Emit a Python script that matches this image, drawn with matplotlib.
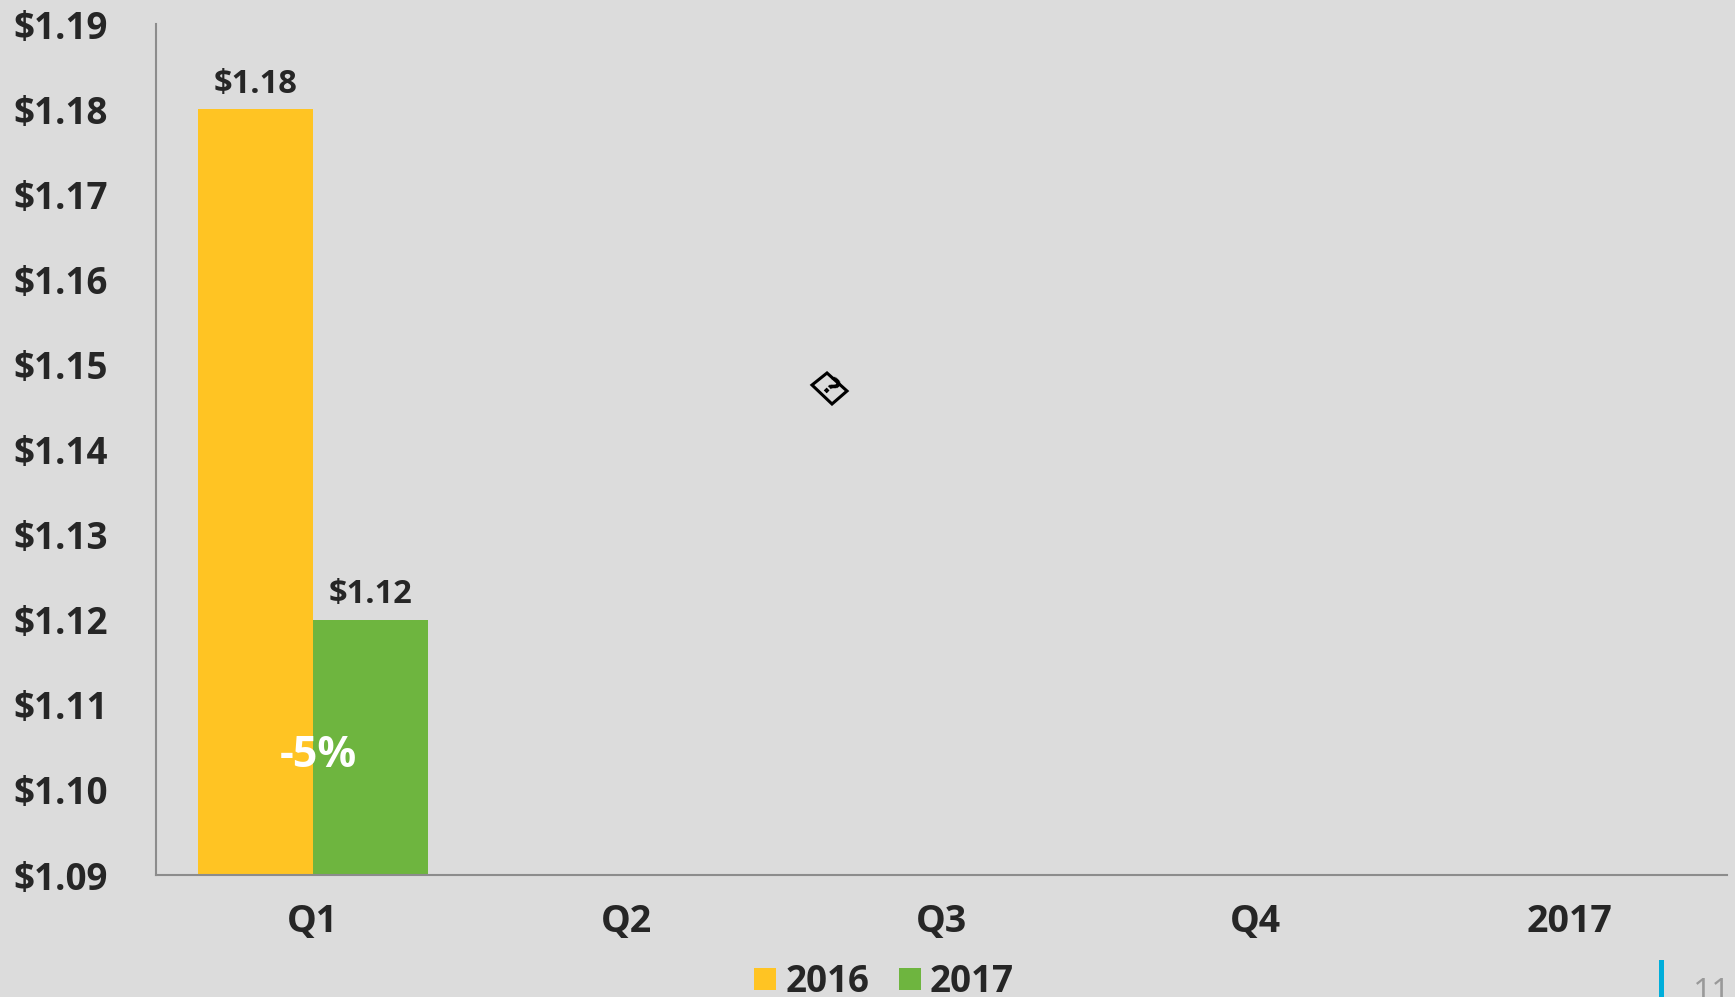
import numpy as np
import matplotlib.pyplot as plt
from matplotlib.patches import Polygon, Rectangle

W, H = 1735, 997
BG = '#DCDCDC'
DARK = '#262626'
AXIS = '#8C8C8C'

categories = ['Q1', 'Q2', 'Q3', 'Q4', '2017']
values_2016 = [1.18, np.nan, np.nan, np.nan, np.nan]
values_2017 = [1.12, np.nan, np.nan, np.nan, np.nan]
y_ticks = [1.09, 1.10, 1.11, 1.12, 1.13, 1.14, 1.15, 1.16, 1.17, 1.18, 1.19]
change_label = '-5%'
page_number = '11'

plt.rcParams['font.family'] = ['Open Sans', 'DejaVu Sans']

fig = plt.figure(figsize=(W / 100, H / 100), dpi=100, facecolor=BG)


def fx(px):
    return px / W


def fy(py):
    return 1 - py / H


ax = fig.add_axes([fx(155.5), fy(875), (1727 - 155.5) / W, (875 - 24) / H], facecolor=BG)

x = np.arange(len(categories))
width = 0.366
bars1 = ax.bar(x - width / 2, values_2016, width, color='#FFC423', label='2016')
bars2 = ax.bar(x + width / 2, values_2017, width, color='#6EB53F', label='2017')

ax.set_xlim(-0.5, len(categories) - 0.5)
ax.set_ylim(1.09, 1.19)
ax.set_yticks(y_ticks)
ax.set_yticklabels([f'${v:.2f}' for v in y_ticks], fontsize=26.5, fontweight='bold', color=DARK, ha='left')
ax.tick_params(axis='y', length=0, pad=102)
ax.set_xticks(x)
ax.set_xticklabels(categories, fontsize=27, fontweight='bold', color=DARK)
ax.tick_params(axis='x', length=0, pad=20.5)

for side in ('top', 'right'):
    ax.spines[side].set_visible(False)
for side in ('left', 'bottom'):
    ax.spines[side].set_color(AXIS)
    ax.spines[side].set_linewidth(1.5)

for b, v in [(bars1[0], values_2016[0]), (bars2[0], values_2017[0])]:
    ax.annotate(f'${v:.2f}', (b.get_x() + b.get_width() / 2, v), xytext=(0, 6),
                textcoords='offset points', ha='center', va='bottom',
                fontsize=23.5, fontweight='bold', color=DARK)

fig.text(fx(318), fy(755), change_label, fontsize=31, fontweight='bold', color='white',
         ha='center', va='center')

# legend hugs the bottom edge, same as the source slide
handles, labels = ax.get_legend_handles_labels()
leg = fig.legend(handles, labels, loc='center', bbox_to_anchor=(fx(884), fy(982)), ncol=2, frameon=False,
                 prop={'size': 26.5, 'weight': 'bold'}, handlelength=0.6, handleheight=0.56,
                 handletextpad=0.25, columnspacing=0.8, labelcolor=DARK)

# broken image icon left over in the slide
cx, cy = 829, 388
diamond = [(cx - 2, cy - 15), (cx + 18, cy + 3), (cx + 3, cy + 16), (cx - 17, cy - 3)]
fig.add_artist(Polygon([(fx(a), fy(b)) for a, b in diamond], closed=True, transform=fig.transFigure,
                       facecolor='none', edgecolor='black', lw=2.2))
fig.text(fx(cx), fy(cy), '?', fontsize=17, fontweight='bold', color='black', rotation=-45,
         ha='center', va='center', family='DejaVu Sans')

# page marker, bottom right
fig.add_artist(Rectangle((fx(1659), 0), 5 / W, 37 / H, transform=fig.transFigure, facecolor='#00AEDB', edgecolor='none'))
fig.text(fx(1712), fy(977), page_number, fontsize=24, color='#999999', ha='center', va='top')

fig.savefig('out.png', dpi=100, facecolor=BG)
